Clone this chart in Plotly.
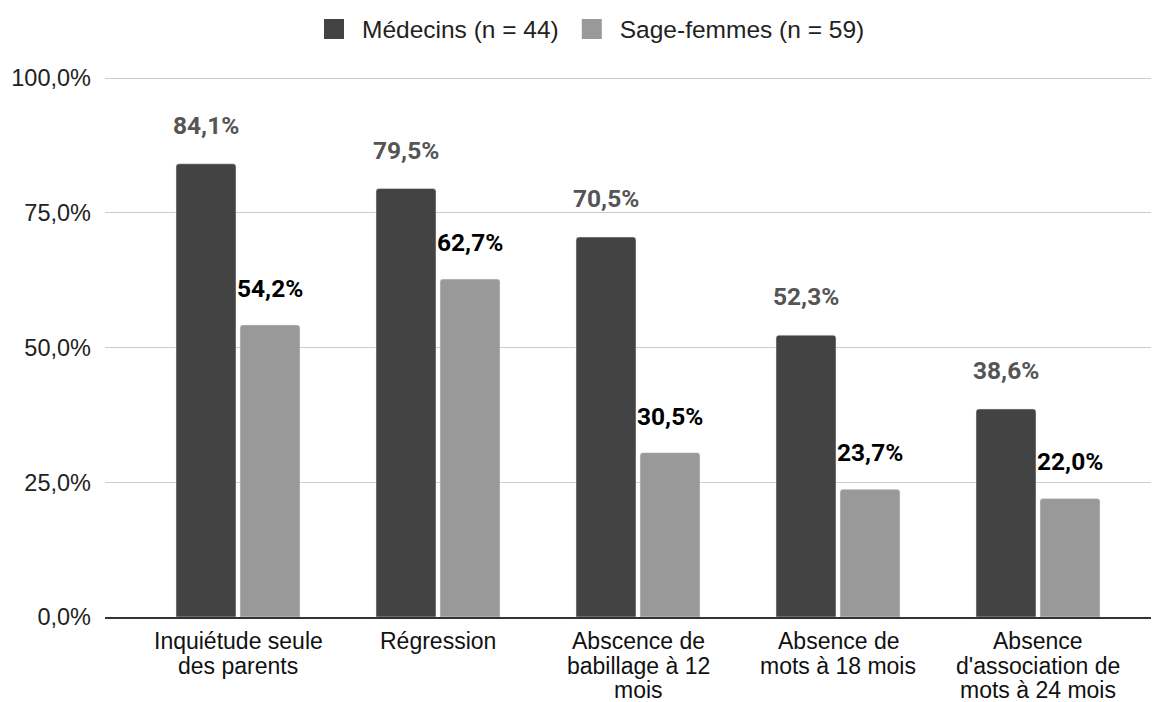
import plotly.graph_objects as go

categories = ["Inquiétude seule<br>des parents", "Régression", "Abscence de<br>babillage à 12<br>mois",
              "Absence de<br>mots à 18 mois", "Absence<br>d'association de<br>mots à 24 mois"]
medecins = [84.1, 79.5, 70.5, 52.3, 38.6]
sages_femmes = [54.2, 62.7, 30.5, 23.7, 22.0]
series_names = ["Médecins (n = 44)", "Sage-femmes (n = 59)"]
tick_vals = [0, 25, 50, 75, 100]

dark = "#434343"
light = "#999999"

def fmt(v):
    return f"{v:.1f}".replace(".", ",") + "%"

fig = go.Figure()
fig.add_trace(go.Bar(x=categories, y=medecins, name=series_names[0], marker_color=dark,
                     offset=-0.31, width=0.3, showlegend=False))
fig.add_trace(go.Bar(x=categories, y=sages_femmes, name=series_names[1], marker_color=light,
                     offset=0.01, width=0.3, showlegend=False))
# legend entries with larger square symbols
for name, col in zip(series_names, [dark, light]):
    fig.add_trace(go.Scatter(x=[None], y=[None], mode="markers", name=name,
                             marker=dict(symbol="square", size=22, color=col,
                                         line=dict(color=col, width=4))))

for c, v in zip(categories, medecins):
    fig.add_annotation(x=c, y=v, text=fmt(v), showarrow=False, xshift=-32, yshift=22,
                       yanchor="bottom", font=dict(family="Roboto", size=24.5, color="#555555", weight="bold"))
for c, v in zip(categories, sages_femmes):
    fig.add_annotation(x=c, y=v, text=fmt(v), showarrow=False, xshift=32, yshift=20,
                       yanchor="bottom", font=dict(family="Roboto", size=24.5, color="#000000", weight="bold"))

# category labels (tighter line spacing than Plotly tick labels allow)
for c in categories:
    for i, line in enumerate(c.split("<br>")):
        fig.add_annotation(x=c, y=0, text=line, showarrow=False, yanchor="middle",
                           yshift=-24 - 24.5 * i,
                           font=dict(family="Liberation Sans, Arial", size=23, color="#111111"))

fig.update_layout(
    width=1151, height=694,
    margin=dict(l=97, r=0, t=69, b=85, autoexpand=False),
    plot_bgcolor="white", paper_bgcolor="white",
    barmode="group",
    barcornerradius=3,
    separators=", ",
    font=dict(family="Liberation Sans, Arial", size=22, color="#222222"),
    legend=dict(orientation="h", xref="container", yref="container", x=580/1151, y=1 - 21/694,
                xanchor="center", yanchor="middle", font=dict(size=24.5, color="#222222"),
                itemwidth=46, traceorder="normal"),
    xaxis=dict(range=[-0.665, 4.605], showgrid=False, showline=True, linecolor="#333333",
               linewidth=1.5, ticks="", showticklabels=False, automargin=False),
    yaxis=dict(range=[0, 100.2], tickvals=tick_vals, ticktext=[fmt(t) for t in tick_vals],
               showgrid=True, gridcolor="#cccccc", gridwidth=1, zeroline=False,
               tickfont=dict(size=23.5, color="#222222"), ticklabelstandoff=13, automargin=False),
    showlegend=True,
)

fig.write_html("out.html")
